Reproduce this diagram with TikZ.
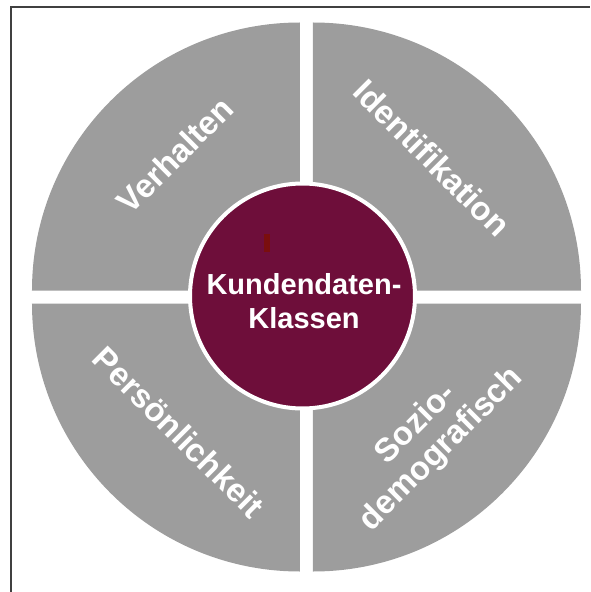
\documentclass[tikz,border=0pt]{standalone}
\usepackage{fontspec}
\setmainfont{Liberation Sans}
\usetikzlibrary{positioning}
\definecolor{slicegray}{RGB}{157,157,157}
\definecolor{hubpurple}{RGB}{110,14,58}
\definecolor{markred}{RGB}{122,14,14}
\definecolor{framegray}{RGB}{64,64,64}
\tikzstyle{slice} = [fill=slicegray]
\tikzstyle{slicetext} = [text=white, font=\bfseries\fontsize{33}{36}\selectfont, align=center, inner sep=0pt]
\tikzstyle{hub} = [circle, fill=hubpurple, draw=white, line width=4pt, minimum size=225pt, inner sep=0pt]

\begin{document}
\begin{tikzpicture}[x=1pt, y=1pt]
    \useasboundingbox (-306.5,-295) rectangle (283.5,297);
    % frame
    \draw [framegray, line width=2pt] (-295.5,-295) -- (-295.5,290) -- (283.5,290);

    % quarter slices
    \fill [slice] (-6.5,6.5) -- ++(-268,0) arc[start angle=180, end angle=90, radius=268pt] -- cycle;
    \fill [slice] (6.5,6.5) -- ++(0,268) arc[start angle=90, end angle=0, radius=268pt] -- cycle;
    \fill [slice] (6.5,-6.5) -- ++(268,0) arc[start angle=0, end angle=-90, radius=268pt] -- cycle;
    \fill [slice] (-6.5,-6.5) -- ++(0,-268) arc[start angle=270, end angle=180, radius=268pt] -- cycle;

    % slice labels
    \node (verhalten) [slicetext, rotate=45] at (-131.5,142) {Verhalten};
    \node (ident) [slicetext, rotate=-45] at (125.5,139) {Identifikation};
    \node (person) [slicetext, rotate=-45] at (-127.5,-135) {Persönlichkeit};
    \node (sozio) [slicetext, rotate=45] at (122.5,-140) {Sozio-\\demografisch};

    % hub
    \node (hub) [hub] at (-4,1) {};
    \fill [markred] (-42.5,45) rectangle (-36.5,63);
    \node (hubtext) [text=white, font=\bfseries\fontsize{29}{34}\selectfont, align=center] at (-2.5,-4) {Kundendaten-\\Klassen};
\end{tikzpicture}
\end{document}
